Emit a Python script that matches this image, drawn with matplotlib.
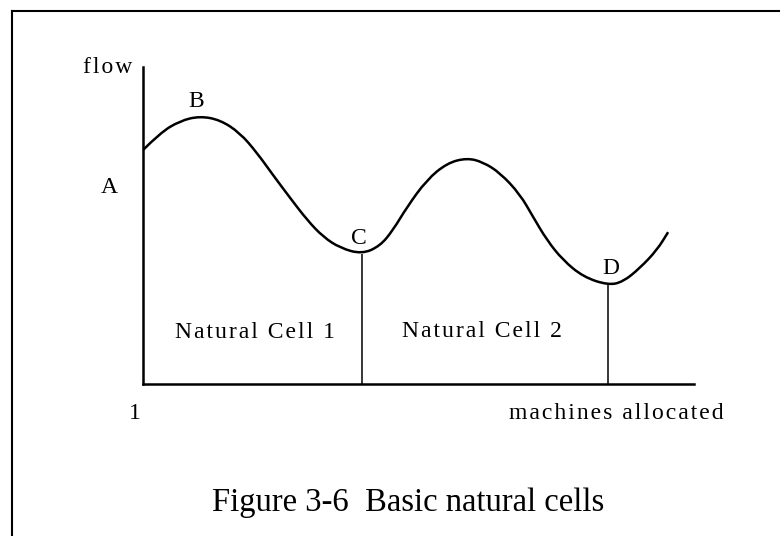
import matplotlib.pyplot as plt
from matplotlib.lines import Line2D
from matplotlib.path import Path
from matplotlib.patches import PathPatch

plt.rcParams["font.family"] = ["Liberation Serif", "DejaVu Serif"]

# curve (x, y in % of axis length)
curve_x = [0, 3.1, 6.7, 10.3, 14.0, 17.6, 20.7, 23.6, 26.7, 29.8, 32.7, 35.8,
           39.7, 43.0, 45.4, 47.9, 51.5, 55.2, 58.8, 61.7, 64.8, 68.4, 70.8,
           73.3, 76.2, 79.9, 84.4, 87.1, 90.2, 93.3, 95.3]
curve_y = [73.8, 79.2, 83.0, 84.5, 83.3, 79.2, 72.9, 65.9, 58.7, 51.7, 46.4, 42.9,
           41.0, 43.5, 48.6, 55.8, 64.4, 69.7, 71.3, 70.0, 66.6, 59.9, 52.7,
           45.4, 39.1, 33.8, 31.2, 32.2, 36.6, 42.3, 47.9]

# cell boundaries (local minima C and D)
boundary_x = [39.7, 84.4]
boundary_y = [41.0, 31.2]

point_names = ["A", "B", "C", "D"]
point_label_x = [-6.2, 9.6, 39.1, 84.9]
point_label_y = [60.3, 87.4, 44.2, 34.7]

cell_names = ["Natural Cell 1", "Natural Cell 2"]
cell_label_x = [20.3, 61.6]
cell_label_y = [14.5, 14.8]

HAIR = "\u200a"


def spaced(s):
    # the original uses letter-spaced lettering
    return HAIR.join(s)


fig = plt.figure(figsize=(7.8, 5.36), dpi=100)

# page frame (top and left edges)
fig.add_artist(Line2D([12 / 780, 1], [1 - 11 / 536, 1 - 11 / 536],
                      color="black", lw=1.5))
fig.add_artist(Line2D([12 / 780, 12 / 780], [0, 1 - 11 / 536],
                      color="black", lw=1.5))

ax = fig.add_axes([143 / 780, 152 / 536, 551 / 780, 317 / 536])
ax.set_xlim(0, 100)
ax.set_ylim(0, 100)
ax.spines["top"].set_visible(False)
ax.spines["right"].set_visible(False)
ax.spines["left"].set_linewidth(1.8)
ax.spines["bottom"].set_linewidth(1.8)
ax.set_xticks([])
ax.set_yticks([])
ax.patch.set_alpha(0)

# smooth curve: quadratic beziers through midpoints of the traced points
pts = list(zip(curve_x, curve_y))
verts = [pts[0]]
codes = [Path.MOVETO]
for i in range(1, len(pts) - 1):
    mid = ((pts[i][0] + pts[i + 1][0]) / 2, (pts[i][1] + pts[i + 1][1]) / 2)
    verts += [pts[i], mid]
    codes += [Path.CURVE3, Path.CURVE3]
verts.append(pts[-1])
codes.append(Path.LINETO)
ax.add_patch(PathPatch(Path(verts, codes), fill=False, lw=1.8,
                       edgecolor="black", clip_on=False))

ax.vlines(boundary_x, 0, boundary_y, color="black", lw=1.1)

for name, x, y in zip(point_names, point_label_x, point_label_y):
    ax.text(x, y, name, ha="center", va="baseline", fontsize=17, clip_on=False)

for name, x, y in zip(cell_names, cell_label_x, cell_label_y):
    ax.text(x, y, spaced(name), ha="center", va="baseline", fontsize=17)

ax.text(-2.0, 98.1, spaced("flow"), ha="right", va="baseline", fontsize=17,
        clip_on=False)
ax.text(-1.45, -11.0, "1", ha="center", va="baseline", fontsize=17, clip_on=False)
ax.text(105.3, -11.0, spaced("machines allocated"), ha="right", va="baseline",
        fontsize=17, clip_on=False)

fig.text(408.5 / 780, 1 - 511 / 536, "Figure 3-6  Basic natural cells",
         ha="center", va="baseline", fontsize=23.5)

fig.savefig("out.png", dpi=100)
